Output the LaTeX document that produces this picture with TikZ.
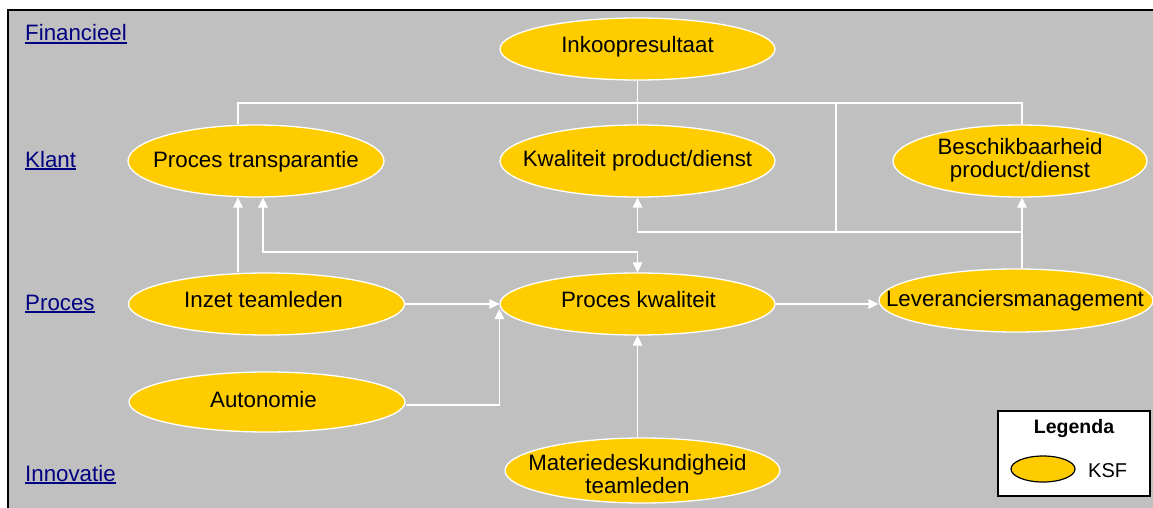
\documentclass[tikz,border=0pt]{standalone}
\usepackage{fontspec}
\setmainfont{Liberation Sans}
\usetikzlibrary{shapes.geometric,arrows.meta}

\definecolor{panel}{HTML}{C0C0C0}
\definecolor{ksf}{HTML}{FFCC00}
\definecolor{perspective}{HTML}{000080}

% text inside an ellipse: zero-size box, shifted by (#1, #2), first baseline at the centre
\newcommand\etext[3]{\makebox[0pt]{\kern#1\kern#1\smash{\raisebox{#2}{\begin{tabular}[t]{@{}c@{}}#3\end{tabular}}}}}
% underlined perspective heading
\newcommand\ulabel[1]{\setbox0\hbox{#1}\rlap{\rule[-2.8pt]{\wd0}{1.6pt}}\box0}

\tikzset{
  ksfnode/.style={ellipse, fill=ksf, draw=white, line width=1.3pt, inner sep=0pt},
  wire/.style={draw=white, line width=1.6pt},
  arr/.style={wire, -{Triangle[length=10pt,width=9.5pt]}},
  darr/.style={wire, {Triangle[length=10pt,width=9.5pt]}-{Triangle[length=10pt,width=9.5pt]}},
  persp/.style={anchor=base west, inner sep=0pt, text=perspective},
}

\begin{document}
\begin{tikzpicture}[x=1pt, y=-1pt, font=\fontsize{22.3}{23}\selectfont]
\useasboundingbox (0,0) rectangle (1153,508);
\fill[white] (0,0) rectangle (1153,508);
\draw[fill=panel, draw=black, line width=1.8pt] (8,10) rectangle (1175,530);

% perspectives
\node[persp] (fin) at (25,41)  {\ulabel{Financieel}};
\node[persp] (kla) at (25,167) {\ulabel{Klant}};
\node[persp] (pro) at (25,310) {\ulabel{Proces}};
\node[persp] (inn) at (25,481) {\ulabel{Innovatie}};

% critical success factors
\node[ksfnode, minimum width=275pt, minimum height=62pt] (ink) at (637.5,49)
  {\etext{0pt}{-4pt}{Inkoopresultaat}};
\node[ksfnode, minimum width=275pt, minimum height=72pt] (kw) at (637.5,161)
  {\etext{0pt}{-5.5pt}{Kwaliteit product/dienst}};
\node[ksfnode, minimum width=256pt, minimum height=72pt] (pt) at (256,161)
  {\etext{0pt}{-6pt}{Proces transparantie}};
\node[ksfnode, minimum width=254pt, minimum height=72pt] (besch) at (1020,161)
  {\etext{0pt}{7pt}{Beschikbaarheid\\product/dienst}};
\node[ksfnode, minimum width=276pt, minimum height=62pt] (inzet) at (266.5,304)
  {\etext{-3pt}{-3pt}{Inzet teamleden}};
\node[ksfnode, minimum width=276pt, minimum height=60pt] (auton) at (267,402)
  {\etext{-3.5pt}{-5pt}{Autonomie}};
\node[ksfnode, minimum width=275pt, minimum height=62pt] (pk) at (637.5,304)
  {\etext{1pt}{-3pt}{Proces kwaliteit}};
\node[ksfnode, minimum width=274pt, minimum height=63pt] (lev) at (1016,300.5)
  {\etext{-1pt}{-6pt}{Leveranciersmanagement}};
\node[ksfnode, minimum width=275pt, minimum height=65pt] (mat) at (642.5,470.5)
  {\etext{-5pt}{0pt}{Materiedeskundigheid\\teamleden}};

% routing points
\coordinate (busL) at (238,103);
\coordinate (busM) at (836,103);
\coordinate (busR) at (1022,103);
\coordinate (lowM) at (836,232);
\coordinate (lowL) at (637.5,232);
\coordinate (lowR) at (1022,232);
\coordinate (jog)  at (263,252);

% connectors
\draw[wire] (ink) -- (kw);
\draw[wire] (busL |- pt.north) -- (busL) -- (busR) -- (busR |- besch.north);
\draw[wire] (busM) -- (lowM);
\draw[arr] (lowR) -- (lowL) -- (kw.south);
\draw[arr] (lev.north -| busR) -- (besch.south -| busR);
\draw[arr] (inzet.north -| busL) -- (pt.south -| busL);
\draw[darr] (pt.south -| jog) -- (jog) -| (pk.north);
\draw[arr] (inzet.east) -- (pk.west);
\draw[arr] ([yshift=-3pt]auton.east) -| ([yshift=-5pt]pk.west);
\draw[arr] (pk.east) -- (pk.east -| lev.west);
\draw[arr] (mat.north -| pk.south) -- (pk.south);

% legend
\node[draw=black, line width=1.8pt, fill=white, minimum width=152pt, minimum height=85pt, inner sep=0pt] (legend) at (1074,453.5) {};
\node[anchor=base, inner sep=0pt, font=\fontsize{19.5}{22}\selectfont\bfseries] (legtitle) at (1074,433) {Legenda};
\node[ellipse, fill=ksf, draw=black, line width=1.2pt, minimum width=64pt, minimum height=26pt, inner sep=0pt] (legksf) at (1043,469) {};
\node[anchor=base west, inner sep=0pt, font=\fontsize{20}{22}\selectfont] (legtext) at (1088,477) {KSF};
\end{tikzpicture}
\end{document}
